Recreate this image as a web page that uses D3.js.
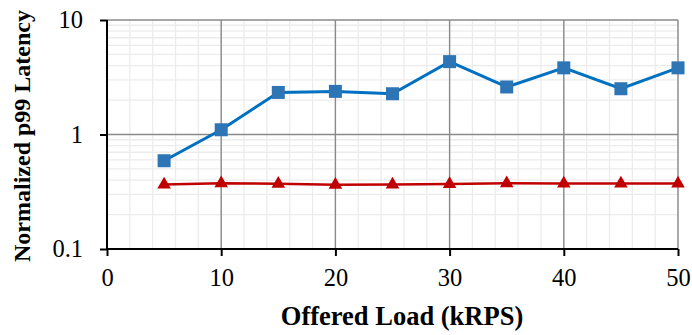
<!DOCTYPE html>
<html>
<head>
<meta charset="utf-8">
<script src="https://cdn.jsdelivr.net/npm/d3@7"></script>
<style>
  body { margin: 0; background: #fff; }
  text { font-family: "Liberation Serif", "Times New Roman", serif; }
</style>
</head>
<body>
<div class="canva"></div>
<script>
// offered load (kRPS)
var loads = [5, 10, 15, 20, 25, 30, 35, 40, 45, 50];
// normalized p99 latency, two series
var blueSeries = [0.59, 1.10, 2.33, 2.38, 2.27, 4.33, 2.60, 3.82, 2.51, 3.82];
var redSeries = [0.366, 0.375, 0.371, 0.364, 0.366, 0.369, 0.375, 0.373, 0.373, 0.373];
var xTicks = [0, 10, 20, 30, 40, 50];
var yTicks = [0.1, 1, 10];

const svg = d3.select(".canva").append("svg")
              .attr("width", 692)
              .attr("height", 335);

const margin = {top: 20, right: 14, bottom: 86, left: 107};
const graphWidth = 678 - margin.left;
const graphHeight = 249 - margin.top;

const mainCanvas = svg.append("g")
                      .attr("transform", `translate(${margin.left},${margin.top})`);

var x = d3.scaleLinear().domain([0, 50]).range([0, graphWidth]);
var y = d3.scaleLog().domain([0.1, 10]).range([graphHeight, 0]);

// minor grid
var minorX = d3.range(0, 51, 2);
var minorY = [];
[0.1, 1].forEach(function(d){ for (var k = 2; k <= 9; k++) minorY.push(d * k); });

mainCanvas.selectAll(".minx").data(minorX).enter().append("line")
          .attr("x1", d => x(d)).attr("x2", d => x(d))
          .attr("y1", 0).attr("y2", graphHeight)
          .attr("stroke", "#ececec").attr("stroke-width", 1.3);
mainCanvas.selectAll(".miny").data(minorY).enter().append("line")
          .attr("x1", 0).attr("x2", graphWidth)
          .attr("y1", d => y(d)).attr("y2", d => y(d))
          .attr("stroke", "#ececec").attr("stroke-width", 1.3);

// major grid
mainCanvas.selectAll(".majx").data(xTicks).enter().append("line")
          .attr("x1", d => x(d)).attr("x2", d => x(d))
          .attr("y1", 0).attr("y2", graphHeight)
          .attr("stroke", "#8a8a8a").attr("stroke-width", 1.4);
mainCanvas.selectAll(".majy").data(yTicks).enter().append("line")
          .attr("x1", 0).attr("x2", graphWidth)
          .attr("y1", d => y(d)).attr("y2", d => y(d))
          .attr("stroke", "#8a8a8a").attr("stroke-width", 1.4);

// axes
var xAxis = d3.axisBottom(x).tickValues(xTicks).tickSize(7).tickPadding(13)
              .tickFormat(d3.format("d"));
var gx = mainCanvas.append("g")
          .attr("transform", "translate(0," + graphHeight + ")")
          .call(xAxis);

var yAxis = d3.axisLeft(y).tickValues(yTicks).tickSize(7).tickPadding(17)
              .tickFormat(d => d);
var gy = mainCanvas.append("g").call(yAxis);

[gx, gy].forEach(function(g){
  g.attr("font-family", "Liberation Serif").attr("font-size", 24);
  g.select(".domain").attr("stroke", "#000").attr("stroke-width", 2);
  g.selectAll(".tick line").attr("stroke", "#000").attr("stroke-width", 2);
  g.selectAll(".tick text").attr("fill", "#000")
   .style("font-size", "24.5px");
});
gx.select(".domain").attr("d", `M0,0H${graphWidth}`);
gy.select(".domain").attr("d", `M0,${graphHeight}V0`);

// lines
var valueLine = d3.line()
                  .x((d, i) => x(loads[i]))
                  .y(d => y(d));

mainCanvas.append("path")
          .datum(blueSeries)
          .attr("fill", "none")
          .attr("stroke", "#0070C0")
          .attr("stroke-width", 3)
          .attr("d", valueLine);

mainCanvas.append("path")
          .datum(redSeries)
          .attr("fill", "none")
          .attr("stroke", "#C00000")
          .attr("stroke-width", 2.5)
          .attr("d", valueLine);

mainCanvas.selectAll(".sq").data(blueSeries).enter().append("rect")
          .attr("x", (d, i) => x(loads[i]) - 6.5)
          .attr("y", d => y(d) - 6.5)
          .attr("width", 13).attr("height", 13)
          .attr("fill", "#2E75B6");

var tri = d3.symbol().type(d3.symbolTriangle).size(80);
mainCanvas.selectAll(".tri").data(redSeries).enter().append("path")
          .attr("transform", (d, i) => `translate(${x(loads[i])},${y(d)})`)
          .attr("d", tri)
          .attr("fill", "#C00000");

// titles
svg.append("text")
   .attr("x", 402)
   .attr("y", 325)
   .attr("text-anchor", "middle")
   .style("font-size", "26.5px").style("font-weight", "bold")
   .text("Offered Load (kRPS)");

svg.append("text")
   .attr("transform", `translate(30,136) rotate(-90)`)
   .attr("text-anchor", "middle")
   .style("font-size", "24px").style("font-weight", "bold")
   .text("Normalized p99 Latency");
</script>
</body>
</html>
